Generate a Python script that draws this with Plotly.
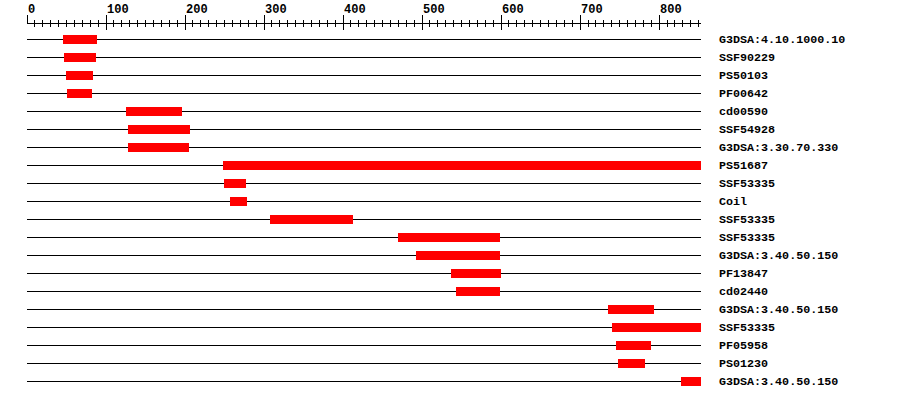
import plotly.graph_objects as go

# ---- data ----
protein_length = 853
feature_names = [
    "G3DSA:4.10.1000.10", "SSF90229", "PS50103", "PF00642", "cd00590",
    "SSF54928", "G3DSA:3.30.70.330", "PS51687", "SSF53335", "Coil",
    "SSF53335", "SSF53335", "G3DSA:3.40.50.150", "PF13847", "cd02440",
    "G3DSA:3.40.50.150", "SSF53335", "PF05958", "PS01230", "G3DSA:3.40.50.150",
]
feature_starts = [46, 47, 49, 51, 125, 128, 128, 248, 249, 257,
                  308, 470, 492, 537, 543, 735, 740, 746, 748, 828]
feature_ends = [89, 87, 84, 82, 196, 206, 205, 853, 277, 278,
                413, 599, 599, 600, 599, 794, 853, 790, 782, 853]
ruler_tick_values = [0, 100, 200, 300, 400, 500, 600, 700, 800]
ruler_tick_labels = ["0", "100", "200", "300", "400", "500", "600", "700", "800"]

# ---- layout constants ----
W, H = 900, 400
ROW_PX = 18.0
FIRST_ROW_PX = 39.5
AXIS_PX = 22.5
FONT = "Liberation Mono"

rows = list(range(len(feature_names)))


def px_to_row(p):
    return (p - FIRST_ROW_PX) / ROW_PX


fig = go.Figure()

fig.add_trace(go.Bar(
    orientation="h",
    y=rows,
    x=[e - s for s, e in zip(feature_starts, feature_ends)],
    base=feature_starts,
    width=9 / ROW_PX,
    marker=dict(color="#ff0000", line=dict(width=0)),
    hovertext=feature_names,
    showlegend=False,
    xaxis="x", yaxis="y",
))

shapes = []
for r in rows:
    shapes.append(dict(type="line", xref="x", yref="y", layer="below",
                       x0=0, x1=protein_length, y0=r, y1=r,
                       line=dict(color="black", width=1)))

annotations = []
for r, name in zip(rows, feature_names):
    annotations.append(dict(xref="paper", yref="y", x=1, y=r, xshift=16,
                            xanchor="left", yanchor="middle", showarrow=False,
                            text=name,
                            font=dict(family=FONT, size=11.7, color="black", weight="bold")))

axis_pos = 1 - AXIS_PX / H

fig.update_layout(
    width=W, height=H,
    margin=dict(l=27, r=W - 701, t=0, b=0, pad=0),
    paper_bgcolor="white", plot_bgcolor="white",
    showlegend=False,
    bargap=0,
    xaxis=dict(
        range=[0, protein_length], side="top", anchor="free", position=axis_pos,
        showgrid=False, zeroline=False, showline=True, linecolor="black", linewidth=1,
        ticks="outside", ticklen=8, tickwidth=1, tickcolor="black",
        tickvals=ruler_tick_values, ticktext=ruler_tick_labels,
        ticklabelposition="outside right", ticklabelstandoff=5,
        tickfont=dict(family=FONT, size=12, color="black", weight="bold"),
        minor=dict(dtick=10, ticks="outside", ticklen=3, tickwidth=1, tickcolor="black"),
    ),
    xaxis2=dict(
        range=[0, protein_length], overlaying="x", side="top", anchor="free",
        position=axis_pos, showgrid=False, zeroline=False, showline=False,
        ticks="inside", ticklen=6, tickwidth=1, tickcolor="black",
        tickvals=ruler_tick_values, showticklabels=False,
        minor=dict(dtick=10, ticks="inside", ticklen=3, tickwidth=1, tickcolor="black"),
    ),
    yaxis=dict(
        range=[px_to_row(H), px_to_row(0)], showgrid=False, zeroline=False,
        showline=False, showticklabels=False, ticks="", domain=[0, 1],
    ),
    shapes=shapes,
    annotations=annotations,
)

# dummy trace so xaxis2 is drawn
fig.add_trace(go.Scatter(x=[None], y=[None], xaxis="x2", yaxis="y",
                         showlegend=False, hoverinfo="skip"))

fig.write_html("out.html", config={"displayModeBar": False},
               post_script="document.body.style.margin='0';document.body.style.overflow='hidden';")
